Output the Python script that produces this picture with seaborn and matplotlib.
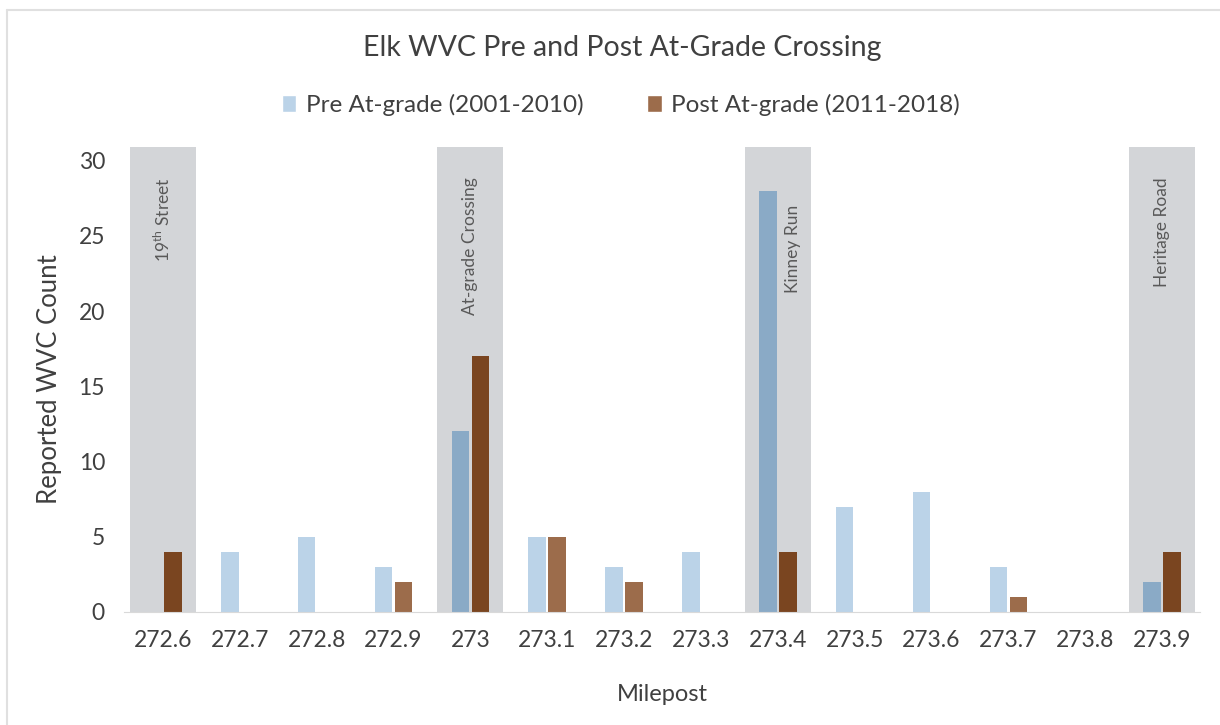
import numpy as np
import pandas as pd
import seaborn as sns
import matplotlib.pyplot as plt
from matplotlib.lines import Line2D

# Data
mileposts = ["272.6", "272.7", "272.8", "272.9", "273", "273.1", "273.2",
             "273.3", "273.4", "273.5", "273.6", "273.7", "273.8", "273.9"]
pre_counts = [0, 4, 5, 3, 12, 5, 3, 4, 28, 7, 8, 3, 0, 2]
post_counts = [4, 0, 0, 2, 17, 5, 2, 0, 4, 0, 0, 1, 0, 4]
series_names = ["Pre At-grade (2001-2010)", "Post At-grade (2011-2018)"]

# Highlighted mileposts and their labels
highlight_posts = ["272.6", "273", "273.4", "273.9"]
highlight_labels = ["19$^{\\rm th}$ Street", "At-grade Crossing", "Kinney Run", "Heritage Road"]

df = pd.DataFrame({
    "Milepost": mileposts * 2,
    "Count": pre_counts + post_counts,
    "Period": [series_names[0]] * len(mileposts) + [series_names[1]] * len(mileposts),
})

sns.set_style("white")
plt.rcParams["font.family"] = ["Lato", "DejaVu Sans"]
plt.rcParams["mathtext.fontset"] = "custom"
plt.rcParams["mathtext.rm"] = "Lato"

light_colors = ["#b4d4ef", "#a96a3e"]
dark_colors = ["#8aaac6", "#7a4520"]
text_color = "#404040"

fig = plt.figure(figsize=(12.2, 7.25), dpi=100)
ax = fig.add_axes([0.102, 0.156, 0.882, 0.641])

sns.barplot(data=df, x="Milepost", y="Count", hue="Period", order=mileposts,
            hue_order=series_names, palette=light_colors, width=0.52, gap=0.12,
            ax=ax, zorder=2)

# recolor bars that sit inside a highlighted band
n = len(mileposts)
for i, p in enumerate(ax.patches[:2 * n]):
    s, k = divmod(i, n)
    if mileposts[k] in highlight_posts:
        p.set_facecolor(dark_colors[s])
    p.set_edgecolor("none")

# grey bands with vertical labels
for post, lab in zip(highlight_posts, highlight_labels):
    k = mileposts.index(post)
    ax.axvspan(k - 0.43, k + 0.43, color="#d3d5d8", zorder=0, lw=0)
    dx, ytop = (0.2, 27.1) if post == "273.4" else (0.0, 28.9)
    ax.text(k + dx, ytop, lab, rotation=90, ha="center", va="top",
            fontsize=12.5, color="#595959", zorder=3)

ax.set_xlim(-0.5, n - 0.5)
ax.set_ylim(0, 30.9)
ax.set_yticks(range(0, 31, 5))
ax.tick_params(axis="both", length=0, labelsize=16.5, colors=text_color)
ax.tick_params(axis="y", pad=14)
ax.tick_params(axis="x", pad=13)
ax.set_xlabel("Milepost", fontsize=17, color=text_color, labelpad=24)
ax.set_ylabel("Reported WVC Count", fontsize=18.5, color=text_color, labelpad=12)

sns.despine(ax=ax, left=True)
ax.spines["bottom"].set_color("#d9d9d9")

fig.suptitle("Elk WVC Pre and Post At-Grade Crossing", fontsize=20.5,
             color=text_color, x=0.51, y=0.934, va="center")
sns.move_legend(ax, "center", bbox_to_anchor=(0.509, 0.855),
                bbox_transform=fig.transFigure, ncol=2, frameon=False,
                title=None, fontsize=17.5, handlelength=0.6, handleheight=0.7,
                handletextpad=0.4, columnspacing=2.6, labelcolor=text_color)

# light outer frame (left and top edges visible)
fig.add_artist(Line2D([7 / 1220, 7 / 1220], [0, 1 - 10 / 725], color="#e0e0e0", lw=1.5))
fig.add_artist(Line2D([7 / 1220, 1], [1 - 10 / 725, 1 - 10 / 725], color="#e0e0e0", lw=1.5))

fig.savefig("out.png", dpi=100, facecolor="white")
